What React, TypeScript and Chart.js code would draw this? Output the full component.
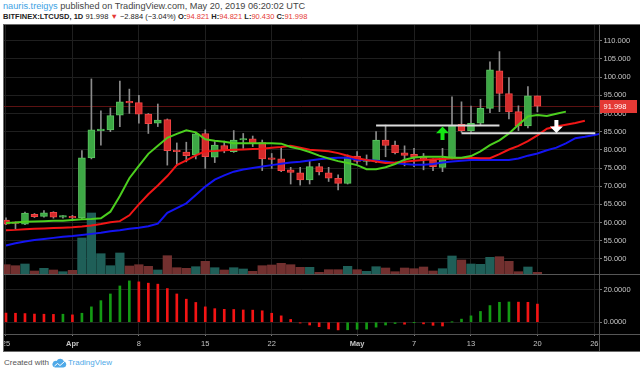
import React, { useEffect, useRef } from 'react';
import { Chart, registerables } from 'chart.js';

Chart.register(...registerables);

// ---------------- data (day index 0 = 2019-03-25) ----------------
const tickDays = [0, 7, 14, 21, 28, 37, 43, 49, 56, 62];
const tickLabels = ['25', 'Apr', '8', '15', '22', 'May', '7', '13', '20', '26'];
const boldTickLabels = ['Apr', 'May'];
const priceTicks = [50, 55, 60, 65, 70, 75, 80, 85, 90, 95, 100, 105, 110];
const oscTicks = [0, 20];

const open = [
  60.7, 59.9, 59.6, 62.3, 61.7, 62.8, 61.5, 61.6, 61.3, 77.8,
  85.3, 85.5, 89.5, 93.3, 93.0, 89.8, 87.3, 88.3, 79.7, 79.4,
  78.6, 84.5, 78.0, 81.2, 79.5, 82.7, 83.0, 82.0, 77.6, 77.5,
  74.5, 73.7, 71.7, 75.4, 73.7, 72.2, 70.8, 78.3, 76.8, 76.8,
  82.7, 81.3, 79.2, 78.8, 78.0, 77.2, 75.2, 77.9, 87.0, 85.2,
  87.3, 91.4, 101.7, 95.5, 90.5, 86.6, 94.821,
];
const high = [
  61.3, 60.2, 62.9, 62.5, 63.3, 63.0, 61.9, 62.0, 79.8, 99.5,
  90.7, 91.5, 98.9, 96.7, 95.0, 90.0, 92.6, 88.5, 81.9, 82.1,
  84.8, 85.5, 82.3, 82.4, 85.3, 84.5, 83.8, 82.7, 79.0, 80.6,
  75.2, 75.2, 76.9, 76.3, 75.2, 73.1, 78.6, 79.5, 78.6, 85.0,
  86.8, 82.4, 81.1, 80.4, 79.0, 77.5, 80.4, 94.6, 93.2, 92.0,
  93.9, 104.2, 107.0, 99.9, 92.1, 97.4, 94.821,
];
const low = [
  59.4, 58.2, 59.4, 61.4, 61.5, 61.2, 61.2, 61.0, 61.0, 77.5,
  81.3, 85.0, 86.4, 90.0, 87.3, 84.5, 86.4, 75.8, 75.8, 76.7,
  77.5, 74.9, 76.5, 79.2, 79.3, 80.4, 80.9, 74.3, 74.9, 74.0,
  70.6, 70.3, 70.6, 73.1, 71.3, 69.0, 70.6, 76.3, 75.8, 76.5,
  78.1, 78.9, 75.6, 75.4, 74.5, 74.3, 74.0, 77.5, 84.8, 84.8,
  86.8, 90.2, 90.5, 88.5, 85.3, 86.0, 90.43,
];
const close = [
  59.6, 59.8, 62.6, 61.6, 62.7, 61.5, 61.6, 61.3, 77.8, 85.5,
  85.7, 89.4, 93.2, 92.9, 89.8, 87.2, 88.2, 79.8, 79.5, 78.4,
  84.4, 78.1, 81.3, 79.8, 82.7, 83.0, 81.8, 77.5, 77.4, 74.3,
  73.8, 71.7, 75.4, 73.9, 72.2, 70.8, 78.1, 76.8, 77.0, 82.7,
  81.2, 79.2, 78.5, 78.0, 77.4, 75.4, 77.7, 86.8, 85.3, 87.3,
  91.4, 102.0, 95.5, 90.4, 86.6, 94.882, 91.998,
];
const volume = [
  93, 83, 100, 30, 57, 40, 23, 37, 360, 610,
  203, 83, 210, 80, 93, 77, 40, 183, 63, 57,
  73, 127, 63, 40, 63, 50, 27, 83, 90, 107,
  93, 67, 67, 17, 43, 43, 77, 43, 27, 73,
  60, 23, 60, 53, 70, 30, 53, 180, 140, 100,
  97, 167, 173, 127, 23, 70, 17,
];
// Alligator lines (already displaced forward)
const lips = [
  59.9, 60.0, 60.2, 60.3, 60.4, 60.5, 60.5, 60.7, 60.9, 61.0,
  61.2, 63.0, 67.3, 72.2, 75.6, 78.9, 81.1, 83.3, 84.4, 85.4,
  84.8, 82.9, 82.5, 82.2, 81.8, 81.8, 81.8, 81.8, 81.8, 81.7,
  80.8, 80.2, 79.4, 78.4, 77.6, 76.9, 76.4, 75.8, 74.7, 74.7,
  75.2, 76.1, 77.3, 77.9, 78.1, 78.1, 78.1, 77.8, 77.8, 78.3,
  79.6, 81.3, 82.6, 84.5, 86.9, 89.2, 89.6, 89.3, 89.9, 90.5,
];
const teeth = [
  57.9, 58.0, 58.2, 58.3, 58.4, 58.5, 58.6, 58.7, 58.9, 59.2,
  59.6, 60.1, 60.4, 62.0, 65.0, 67.8, 70.2, 72.8, 75.8, 77.1,
  78.5, 79.6, 79.7, 79.9, 80.0, 80.1, 80.2, 80.3, 80.6, 80.8,
  81.1, 80.6, 80.0, 79.8, 79.6, 79.1, 78.4, 77.7, 77.2, 76.8,
  76.4, 76.5, 76.7, 77.0, 77.2, 77.4, 77.5, 77.6, 77.7, 77.8,
  77.7, 77.7, 78.8, 80.1, 81.1, 82.4, 84.0, 85.8, 86.4, 86.9,
  87.4, 88.0,
];
const jaw = [
  53.7, 54.3, 54.8, 55.2, 55.5, 55.8, 56.1, 56.3, 56.6, 56.9,
  57.2, 57.6, 57.9, 58.3, 58.6, 59.0, 59.7, 62.7, 64.0, 65.3,
  67.6, 69.9, 71.8, 73.0, 74.0, 74.6, 75.0, 75.4, 75.8, 76.2,
  76.5, 76.7, 77.1, 77.4, 77.7, 77.8, 77.8, 77.3, 77.2, 77.0,
  76.8, 76.4, 76.1, 75.9, 75.9, 76.1, 76.5, 76.8, 77.0, 77.2,
  77.2, 77.2, 77.2, 77.2, 77.6, 78.4, 79.0, 79.9, 80.6, 81.8,
  83.2, 83.6, 84.1, 84.6,
];
const osc = [
  5.6, 5.5, 5.3, 5.0, 4.9, 4.8, 4.9, 4.5, 5.5, 9.4,
  13.2, 17.3, 22.2, 25.3, 24.7, 23.9, 23.3, 20.6, 17.3, 14.1,
  12.1, 9.4, 8.3, 7.9, 7.8, 7.5, 7.4, 7.0, 5.5, 3.9,
  1.7, -0.5, -1.7, -2.7, -4.1, -4.7, -4.6, -4.3, -4.2, -3.0,
  -1.7, -0.8, -1.2, -0.1, -1.0, -1.9, -2.3, 0.1, 1.9, 3.9,
  6.6, 10.2, 12.2, 12.4, 12.3, 12.2, 11.1,
];
// drawn levels and arrows
const levelStart = [39, 48];
const levelEnd = [52, 62.1];
const levelPrice = [86.7, 84.55];
const arrowDay = [46, 58];
const arrowTip = [86.4, 84.6];
const arrowTail = [82.7, 88.2];

// ---------------- styling ----------------
const FONT = '"Liberation Sans", Arial, sans-serif';
const AXIS_TEXT = '#c4c4c4';
const GRID = '#1f1f1f';
const SEP = '#565656';
const UP_BODY = '#3da845';
const UP_BORDER = '#5cc462';
const DOWN_BODY = '#d42b2b';
const DOWN_BORDER = '#f24646';
const WICK = '#8c8c8c';
const VOL_UP = '#1f5f58';
const VOL_DOWN = '#72302f';
const OSC_UP = '#149a14';
const OSC_DOWN = '#f41414';
const LIPS_C = '#4ccf1f';
const TEETH_C = '#f21616';
const JAW_C = '#1414f2';
const LEVEL_C = '#dcdcdc';
const ARROW_COLORS = ['#14e614', '#ffffff'];
const LAST_C = '#e53935';
const HDR_RED = '#e53935';

const X_MIN = -0.21;
const X_MAX = 62.49;
const PRICE_MIN = 45.87;
const PRICE_MAX = 114.32;
const VOL_MAX = 2490;
const OSC_MIN = -7.2;
const OSC_MAX = 28.9;
const AXIS_W = 41;

const isUp = (i: number) => close[i] >= open[i];

const lastPricePlugin = {
  id: 'lastPrice',
  beforeDatasetsDraw(chart: any) {
    const { ctx, chartArea, scales } = chart;
    const y = Math.round(scales.y.getPixelForValue(close[close.length - 1])) + 0.5;
    ctx.save();
    ctx.strokeStyle = '#5c1212';
    ctx.lineWidth = 1;
    ctx.beginPath();
    ctx.moveTo(chartArea.left, y);
    ctx.lineTo(chartArea.right, y);
    ctx.stroke();
    ctx.restore();
  },
  afterDraw(chart: any) {
    const { ctx, chartArea, scales } = chart;
    const last = close[close.length - 1];
    const y = scales.y.getPixelForValue(last);
    ctx.save();
    ctx.fillStyle = LAST_C;
    ctx.fillRect(chartArea.right + 1, Math.round(y - 6.5), 37, 13);
    ctx.fillStyle = '#ffffff';
    ctx.font = `7.5px ${FONT}`;
    ctx.textBaseline = 'middle';
    ctx.textAlign = 'left';
    ctx.fillText(last.toFixed(3), chartArea.right + 4.5, y + 0.5);
    ctx.restore();
  },
};

const arrowPlugin = {
  id: 'arrows',
  afterDatasetsDraw(chart: any) {
    const { ctx, scales } = chart;
    ctx.save();
    arrowDay.forEach((d, i) => {
      const x = scales.x.getPixelForValue(d);
      const tip = scales.y.getPixelForValue(arrowTip[i]);
      const tail = scales.y.getPixelForValue(arrowTail[i]);
      const dir = tail > tip ? 1 : -1;
      const len = Math.abs(tail - tip);
      const headH = len * 0.5;
      const headW = 6.5;
      const shaftW = 2;
      ctx.beginPath();
      ctx.moveTo(x, tip);
      ctx.lineTo(x + headW, tip + dir * headH);
      ctx.lineTo(x + shaftW, tip + dir * headH);
      ctx.lineTo(x + shaftW, tail);
      ctx.lineTo(x - shaftW, tail);
      ctx.lineTo(x - shaftW, tip + dir * headH);
      ctx.lineTo(x - headW, tip + dir * headH);
      ctx.closePath();
      ctx.fillStyle = ARROW_COLORS[i];
      ctx.fill();
    });
    ctx.restore();
  },
};

const xAxisBase = (showLabels: boolean) => ({
  type: 'linear' as const,
  min: X_MIN,
  max: X_MAX,
  offset: false,
  bounds: 'data' as const,
  afterBuildTicks: (s: any) => {
    s.ticks = tickDays.map((v) => ({ value: v }));
  },
  afterFit: (s: any) => {
    s.paddingLeft = 0;
    s.paddingRight = 0;
    s.height = showLabels ? 17 : 0;
  },
  grid: {
    offset: false,
    color: GRID,
    drawTicks: showLabels,
    tickLength: 2,
    tickColor: '#777',
  },
  border: { display: false },
  ticks: {
    display: showLabels,
    autoSkip: false,
    maxRotation: 0,
    minRotation: 0,
    padding: 3.5,
    color: AXIS_TEXT,
    font: (ctx: any) => ({
      family: FONT,
      size: 7.5,
      weight: boldTickLabels.includes(tickLabels[ctx.index]) ? 'bold' : 'normal',
    }),
    callback: (_v: any, i: number) => tickLabels[i],
  },
});

const yAxisBase = (ticksArr: number[], min: number, max: number, digits: number) => ({
  type: 'linear' as const,
  position: 'right' as const,
  min,
  max,
  bounds: 'data' as const,
  afterBuildTicks: (s: any) => {
    s.ticks = ticksArr.map((v) => ({ value: v }));
  },
  afterFit: (s: any) => {
    s.width = AXIS_W;
    s.paddingTop = 0;
    s.paddingBottom = 0;
  },
  grid: { color: GRID, tickLength: 3, tickColor: '#777' },
  border: { display: false },
  ticks: {
    padding: 1.5,
    color: AXIS_TEXT,
    font: { family: FONT, size: 7.5 },
    callback: (v: any) => Number(v).toFixed(digits),
  },
});

function mainConfig(): any {
  return {
    type: 'bar',
    data: {
      datasets: [
        ...levelPrice.map((p, i) => ({
          type: 'line',
          label: 'Level ' + (i + 1),
          data: [
            { x: levelStart[i], y: p },
            { x: levelEnd[i], y: p },
          ],
          borderColor: LEVEL_C,
          borderWidth: 2,
          pointRadius: 0,
          order: 0,
        })),
        {
          type: 'line',
          label: 'Lips',
          data: lips.map((v, i) => ({ x: i, y: v })),
          borderColor: LIPS_C,
          borderWidth: 2,
          pointRadius: 0,
          tension: 0,
          clip: 0,
          order: 1,
        },
        {
          type: 'line',
          label: 'Teeth',
          data: teeth.map((v, i) => ({ x: i, y: v })),
          borderColor: TEETH_C,
          borderWidth: 2,
          pointRadius: 0,
          tension: 0,
          clip: 0,
          order: 2,
        },
        {
          type: 'line',
          label: 'Jaw',
          data: jaw.map((v, i) => ({ x: i, y: v })),
          borderColor: JAW_C,
          borderWidth: 2,
          pointRadius: 0,
          tension: 0,
          clip: 0,
          order: 3,
        },
        {
          type: 'bar',
          label: 'Body',
          data: open.map((o, i) => ({ x: i, y: [o, close[i]] })),
          backgroundColor: (c: any) => (c.dataIndex != null && isUp(c.dataIndex) ? UP_BODY : DOWN_BODY),
          borderColor: (c: any) => (c.dataIndex != null && isUp(c.dataIndex) ? UP_BORDER : DOWN_BORDER),
          borderWidth: 1,
          borderSkipped: false,
          barThickness: 7,
          minBarLength: 1.5,
          grouped: false,
          order: 5,
        },
        {
          type: 'bar',
          label: 'Wick',
          data: low.map((l, i) => ({ x: i, y: [l, high[i]] })),
          backgroundColor: WICK,
          borderWidth: 0,
          barThickness: 1,
          grouped: false,
          order: 6,
        },
        {
          type: 'bar',
          label: 'Volume',
          yAxisID: 'yVol',
          data: volume.map((v, i) => ({ x: i, y: v })),
          backgroundColor: (c: any) => (c.dataIndex != null && isUp(c.dataIndex) ? VOL_UP : VOL_DOWN),
          borderWidth: 0,
          barThickness: 8.6,
          grouped: false,
          order: 7,
        },
      ],
    },
    options: {
      animation: false,
      responsive: false,
      devicePixelRatio: 1,
      events: [],
      layout: { padding: 0 },
      plugins: { legend: { display: false }, tooltip: { enabled: false } },
      scales: {
        x: xAxisBase(false),
        y: yAxisBase(priceTicks, PRICE_MIN, PRICE_MAX, 3),
        yVol: {
          type: 'linear',
          display: false,
          position: 'left',
          min: 0,
          max: VOL_MAX,
          grid: { display: false },
        },
      },
    },
    plugins: [lastPricePlugin, arrowPlugin],
  };
}

function oscConfig(): any {
  return {
    type: 'bar',
    data: {
      datasets: [
        {
          type: 'bar',
          label: 'Oscillator',
          data: osc.map((v, i) => ({ x: i, y: v })),
          backgroundColor: (c: any) => {
            const i = c.dataIndex;
            if (i == null || i === 0) return OSC_DOWN;
            return osc[i] > osc[i - 1] ? OSC_UP : OSC_DOWN;
          },
          borderWidth: 0,
          barThickness: 2,
          grouped: false,
        },
      ],
    },
    options: {
      animation: false,
      responsive: false,
      devicePixelRatio: 1,
      events: [],
      layout: { padding: 0 },
      plugins: { legend: { display: false }, tooltip: { enabled: false } },
      scales: {
        x: xAxisBase(true),
        y: yAxisBase(oscTicks, OSC_MIN, OSC_MAX, 4),
      },
    },
  };
}

const fmt = (v: number) => v.toFixed(3);
const lastIdx = close.length - 1;
const change = close[lastIdx] - close[lastIdx - 1];
const changePct = (change / close[lastIdx - 1]) * 100;
const minus = (s: string) => s.replace('-', '\u2212');

export default function App() {
  const mainRef = useRef<HTMLCanvasElement>(null);
  const oscRef = useRef<HTMLCanvasElement>(null);

  useEffect(() => {
    document.body.style.margin = '0';
    const m = new Chart(mainRef.current as HTMLCanvasElement, mainConfig());
    const o = new Chart(oscRef.current as HTMLCanvasElement, oscConfig());
    return () => {
      m.destroy();
      o.destroy();
    };
  }, []);

  const line: React.CSSProperties = { position: 'absolute', background: SEP };

  return (
    <div
      style={{
        position: 'fixed',
        left: 0,
        top: 0,
        width: 640,
        height: 374,
        background: '#ffffff',
        overflow: 'hidden',
        fontFamily: FONT,
      }}
    >
      <div
        style={{
          position: 'absolute',
          left: 3,
          top: 1,
          fontSize: 9.2,
          lineHeight: '11px',
          color: '#444',
          whiteSpace: 'nowrap',
        }}
      >
        <span style={{ color: '#3ea3e4' }}>nauris.treigys</span> published on TradingView.com, May 20, 2019 06:20:02 UTC
      </div>
      <div
        style={{
          position: 'absolute',
          left: 3,
          top: 12,
          fontSize: 7.5,
          lineHeight: '10px',
          color: '#222',
          whiteSpace: 'nowrap',
        }}
      >
        <b>BITFINEX:LTCUSD, 1D</b> {fmt(close[lastIdx])}{' '}
        <span style={{ color: HDR_RED }}>▼</span> {minus(change.toFixed(3))} ({minus(changePct.toFixed(2))}%){' '}
        <b>O:</b>
        <span style={{ color: HDR_RED }}>{fmt(open[lastIdx])}</span> <b>H:</b>
        <span style={{ color: HDR_RED }}>{fmt(high[lastIdx])}</span> <b>L:</b>
        <span style={{ color: HDR_RED }}>{fmt(low[lastIdx])}</span> <b>C:</b>
        <span style={{ color: HDR_RED }}>{fmt(close[lastIdx])}</span>
      </div>

      <div
        style={{
          position: 'absolute',
          left: 3,
          top: 24,
          width: 637,
          height: 328,
          boxSizing: 'border-box',
          background: '#000',
          borderLeft: '1px solid #6a6a6a',
          borderTop: '1px solid #6a6a6a',
          borderBottom: '1px solid #6a6a6a',
        }}
      />
      <canvas
        ref={mainRef}
        width={636}
        height={249}
        style={{ position: 'absolute', left: 4, top: 25, width: 636, height: 249 }}
      />
      <canvas
        ref={oscRef}
        width={636}
        height={76}
        style={{ position: 'absolute', left: 4, top: 275, width: 636, height: 76 }}
      />
      <div style={{ ...line, left: 4, top: 274, width: 636, height: 1 }} />
      <div style={{ ...line, left: 4, top: 334, width: 636, height: 1 }} />
      <div style={{ ...line, left: 599, top: 25, width: 1, height: 326 }} />

      <div
        style={{
          position: 'absolute',
          left: 4,
          top: 357,
          fontSize: 8,
          lineHeight: '12px',
          color: '#555',
          whiteSpace: 'nowrap',
          display: 'flex',
          alignItems: 'center',
        }}
      >
        <span>Created with</span>
        <svg width="15" height="10" viewBox="0 0 15 10" style={{ marginLeft: 3, marginRight: 1 }}>
          <path
            d="M3 9.5 H11.5 A3 3 0 0 0 12 3.6 A4 4 0 0 0 4.6 3 A3.2 3.2 0 0 0 3 9.5 Z"
            fill="#4fa9e8"
          />
          <path d="M2.5 8 L5.5 5.5 L8 7.5 L12 4" stroke="#ffffff" strokeWidth="1" fill="none" />
        </svg>
        <span style={{ color: '#4fa9e8' }}>TradingView</span>
      </div>
    </div>
  );
}
